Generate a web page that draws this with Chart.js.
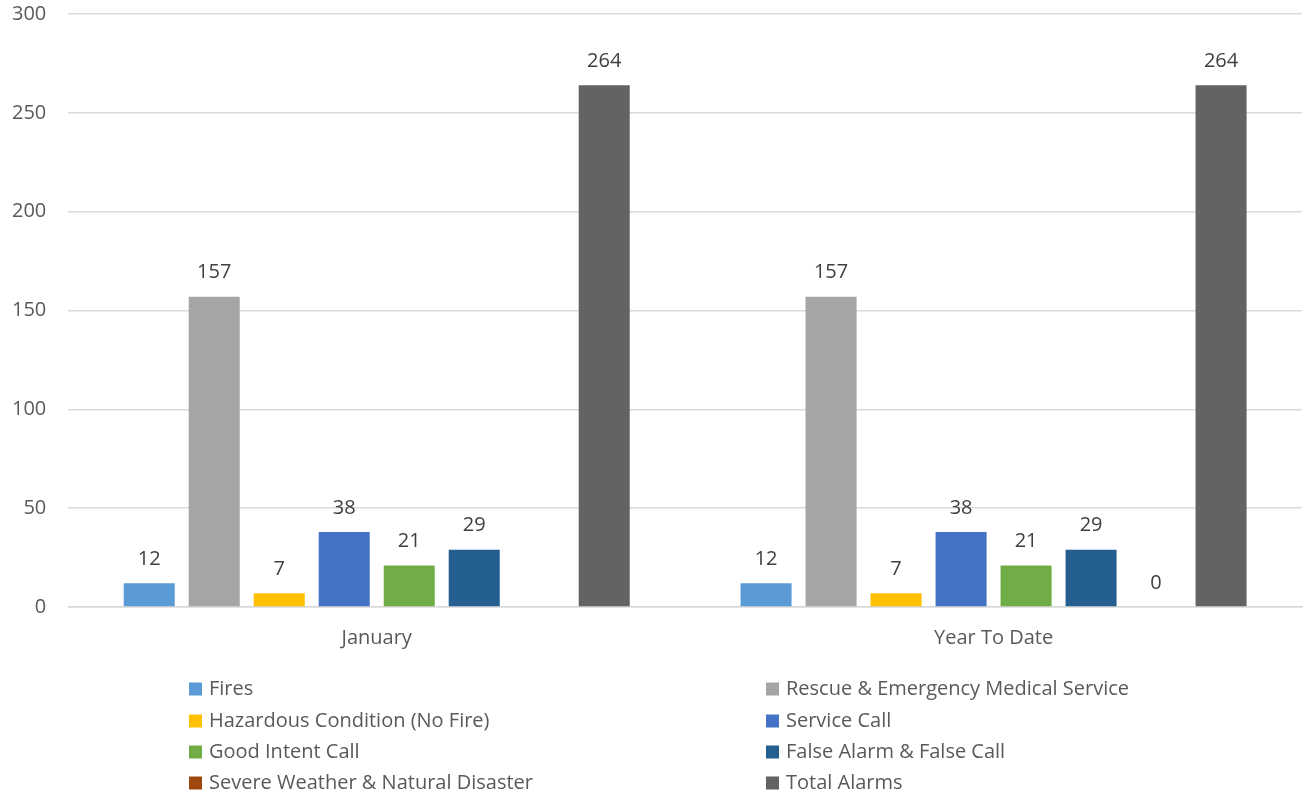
<!DOCTYPE html>
<html>
<head>
    <title>Alarms by Type</title>
    <style>
        html, body { margin: 0; padding: 0; background: #ffffff; }
        #chart-container { position: relative; width: 1304px; height: 798px; }
    </style>
</head>
<body>
    <div id="chart-container">
        <canvas id="myChart"></canvas>
    </div>

    <script src="https://cdn.jsdelivr.net/npm/chart.js"></script>
    <script>
        // Categories and series values
        const categories = ['January', 'Year To Date'];
        const seriesNames = [
            'Fires',
            'Rescue & Emergency Medical Service',
            'Hazardous Condition (No Fire)',
            'Service Call',
            'Good Intent Call',
            'False Alarm & False Call',
            'Severe Weather & Natural Disaster',
            'Total Alarms'
        ];
        const fires = [12, 12];
        const rescueEms = [157, 157];
        const hazardous = [7, 7];
        const serviceCall = [38, 38];
        const goodIntent = [21, 21];
        const falseAlarm = [29, 29];
        const severeWeather = [null, 0];
        const totalAlarms = [264, 264];
        const yTicks = [0, 50, 100, 150, 200, 250, 300];

        const seriesValues = [fires, rescueEms, hazardous, serviceCall, goodIntent, falseAlarm, severeWeather, totalAlarms];
        const colors = ['#5B9BD5', '#A5A5A5', '#FFC000', '#4472C4', '#70AD47', '#255E91', '#9E480E', '#636363'];

        const fontFamily = "'Open Sans', 'Liberation Sans', sans-serif";
        const textColor = '#595959';

        // Value labels above each bar
        const barLabels = {
            id: 'barLabels',
            afterDatasetsDraw(chart) {
                const ctx = chart.ctx;
                ctx.save();
                ctx.font = '20px ' + fontFamily;
                ctx.fillStyle = '#404040';
                ctx.textAlign = 'center';
                ctx.textBaseline = 'middle';
                chart.data.datasets.forEach((ds, i) => {
                    const meta = chart.getDatasetMeta(i);
                    meta.data.forEach((bar, j) => {
                        const v = ds.data[j];
                        if (v === null || v === undefined) return;
                        ctx.fillText(String(v), bar.x, bar.y - 24);
                    });
                });
                ctx.restore();
            }
        };

        // Two-column legend under the plot
        const twoColLegend = {
            id: 'twoColLegend',
            afterDraw(chart) {
                const ctx = chart.ctx;
                ctx.save();
                ctx.font = '20px ' + fontFamily;
                ctx.textBaseline = 'middle';
                ctx.textAlign = 'left';
                const colX = [189, 766];
                const rowY = [689, 721, 752, 783];
                chart.data.datasets.forEach((ds, i) => {
                    const x = colX[i % 2];
                    const y = rowY[Math.floor(i / 2)];
                    ctx.fillStyle = ds.backgroundColor;
                    ctx.fillRect(x, y - 6.5, 13, 13);
                    ctx.fillStyle = textColor;
                    ctx.fillText(ds.label, x + 20, y);
                });
                ctx.restore();
            }
        };

        const ctx = document.getElementById('myChart').getContext('2d');
        const myChart = new Chart(ctx, {
            type: 'bar',
            data: {
                labels: categories,
                datasets: seriesNames.map((name, i) => ({
                    label: name,
                    data: seriesValues[i],
                    backgroundColor: colors[i],
                    borderWidth: 0,
                    categoryPercentage: 0.843,
                    barPercentage: 0.785
                }))
            },
            options: {
                responsive: true,
                maintainAspectRatio: false,
                animation: false,
                layout: {
                    padding: { top: 1, right: 2, bottom: 137, left: 10 }
                },
                scales: {
                    x: {
                        grid: { display: false },
                        border: { display: true, color: '#d9d9d9', width: 1.5 },
                        ticks: {
                            color: textColor,
                            font: { family: fontFamily, size: 20 },
                            padding: 11
                        }
                    },
                    y: {
                        min: 0,
                        max: 300,
                        afterBuildTicks(axis) {
                            axis.ticks = yTicks.map(v => ({ value: v }));
                        },
                        grid: {
                            color: '#d9d9d9',
                            lineWidth: 1.5,
                            drawTicks: true,
                            tickLength: 20,
                            tickColor: 'rgba(0,0,0,0)'
                        },
                        border: { display: false },
                        ticks: {
                            color: textColor,
                            font: { family: fontFamily, size: 20 },
                            padding: 2
                        }
                    }
                },
                plugins: {
                    legend: { display: false },
                    tooltip: { enabled: false }
                }
            },
            plugins: [barLabels, twoColLegend]
        });
    </script>
</body>
</html>
